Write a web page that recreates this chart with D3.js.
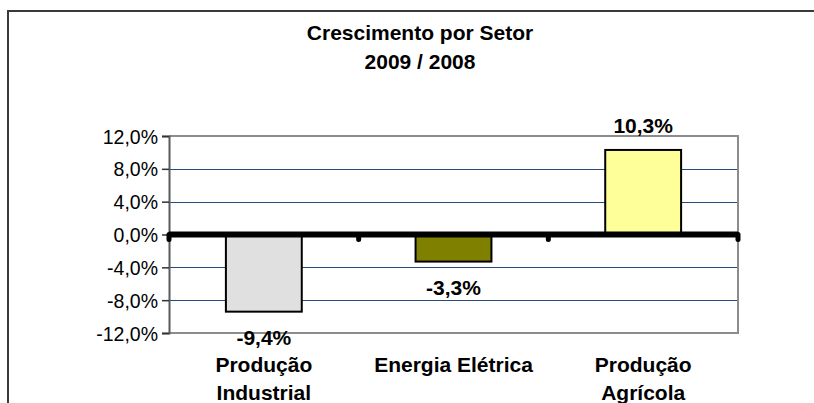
<!DOCTYPE html>
<html>
<head>
<meta charset="utf-8">
<script src="https://d3js.org/d3.v7.min.js"></script>
<style>
	body { margin: 0; background: #fff; }
	text { font-family: Arial, "Liberation Sans", sans-serif; fill: #000; }
	.bold { font-weight: bold; font-size: 21px; }
</style>
</head>
<body>
<svg id="viz" width="814" height="403"></svg>
<script>

// chart values
let sectors = [["Produção", "Industrial"], ["Energia Elétrica"], ["Produção", "Agrícola"]];
let growth = [-9.4, -3.3, 10.3];
let labels = ["-9,4%", "-3,3%", "10,3%"];
let barColors = ["#e0e0e0", "#808000", "#ffff99"];
let yTicks = [-12, -8, -4, 0, 4, 8, 12];
let titleLines = ["Crescimento por Setor", "2009 / 2008"];

let drawEverything = function() {

	const margin = {
		top:	136,
		right:	76,
		bottom: 70,
		left:	169
	};

	let svg = d3.select("body").select("svg#viz");
	let plotWidth = 814 - margin.left - margin.right;
	let plotHeight = 403 - margin.top - margin.bottom;

	// outer frame of the chart object
	svg.append("rect")
		.attr("x", 8)
		.attr("y", 11)
		.attr("width", 830)
		.attr("height", 420)
		.attr("fill", "none")
		.attr("stroke", "#3a3a3a")
		.attr("stroke-width", 2);

	// title
	svg.selectAll("text.title")
		.data(titleLines)
		.enter().append("text")
		.attr("class", "title bold")
		.attr("x", 420)
		.attr("y", (d, i) => 40 + i * 29)
		.attr("text-anchor", "middle")
		.text(d => d);

	let data = growth.map((v, i) => ({ name: sectors[i].join(" "), lines: sectors[i], value: v, label: labels[i], color: barColors[i] }));

	// scales
	let yScale = d3.scaleLinear()
		.domain([-12, 12])
		.range([plotHeight, 0]);

	let xScale = d3.scaleBand()
		.domain(data.map(d => d.name))
		.range([0, plotWidth])
		.paddingInner(0.6)
		.paddingOuter(0.3);

	let plot = svg.append("g").attr("id", "plot");
	plot.attr("transform", `translate(${margin.left}, ${margin.top})`);

	// gridlines (not at zero, the zero line is drawn thick later)
	plot.selectAll("line.grid")
		.data(yTicks.filter(t => t != 0 && t != 12 && t != -12))
		.enter().append("line")
		.attr("class", "grid")
		.attr("x1", 0)
		.attr("x2", plotWidth)
		.attr("y1", d => Math.round(yScale(d)) + 0.5)
		.attr("y2", d => Math.round(yScale(d)) + 0.5)
		.attr("stroke", "#264c7e")
		.attr("stroke-width", 1);

	// plot area border (top, right, bottom in gray)
	plot.append("path")
		.attr("d", `M0,${yScale(12)}H${plotWidth}V${yScale(-12)}H0`)
		.attr("fill", "none")
		.attr("stroke", "#8c8c8c")
		.attr("stroke-width", 2);

	// y axis
	let yAxis = d3.axisLeft(yScale)
		.tickValues(yTicks)
		.tickSize(7)
		.tickPadding(4)
		.tickFormat(d => d3.format(".1f")(d).replace(".", ",").replace("−", "-") + "%");
	let yGroup = plot.append("g").attr("id", "y-axis").call(yAxis);
	yGroup.select(".domain").attr("stroke", "#5a5a5a").attr("stroke-width", 2);
	yGroup.selectAll(".tick line").attr("stroke", "#333").attr("stroke-width", 1.5);
	yGroup.selectAll(".tick text")
		.attr("fill", "#000")
		.attr("dy", "0.36em")
		.style("font-size", "19.5px")
		.style("font-family", "Arial, 'Liberation Sans', sans-serif");

	// bars
	plot.selectAll("rect.bar")
		.data(data)
		.enter().append("rect")
		.attr("class", "bar")
		.attr("x", d => xScale(d.name))
		.attr("width", xScale.bandwidth())
		.attr("y", d => yScale(Math.max(0, d.value)))
		.attr("height", d => Math.abs(yScale(d.value) - yScale(0)))
		.attr("fill", d => d.color)
		.attr("stroke", "#000")
		.attr("stroke-width", 2);

	// thick zero line with the category ticks
	let step = xScale.step();
	let bounds = data.map(d => xScale(d.name) - step * xScale.paddingInner() / 2);
	bounds.push(plotWidth);

	plot.selectAll("line.xtick")
		.data(bounds)
		.enter().append("line")
		.attr("class", "xtick")
		.attr("x1", d => d)
		.attr("x2", d => d)
		.attr("y1", yScale(0))
		.attr("y2", yScale(0) + 5)
		.attr("stroke", "#000")
		.attr("stroke-width", 5)
		.attr("stroke-linecap", "round");

	plot.append("line")
		.attr("x1", 0)
		.attr("x2", plotWidth)
		.attr("y1", yScale(0))
		.attr("y2", yScale(0))
		.attr("stroke", "#000")
		.attr("stroke-width", 6);

	// value labels
	plot.selectAll("text.value")
		.data(data)
		.enter().append("text")
		.attr("class", "value bold")
		.attr("x", d => xScale(d.name) + xScale.bandwidth() / 2)
		.attr("y", d => d.value >= 0 ? yScale(d.value) - 17 : yScale(d.value) + 33)
		.attr("text-anchor", "middle")
		.text(d => d.label);

	// category labels (below the plot)
	let cats = plot.selectAll("text.cat")
		.data(data)
		.enter().append("text")
		.attr("class", "cat bold")
		.attr("text-anchor", "middle")
		.attr("x", d => xScale(d.name) + xScale.bandwidth() / 2)
		.attr("y", plotHeight + 39);

	cats.selectAll("tspan")
		.data(d => d.lines.map(l => ({ line: l, x: xScale(d.name) + xScale.bandwidth() / 2 })))
		.enter().append("tspan")
		.attr("x", d => d.x)
		.attr("dy", (d, i) => i == 0 ? 0 : 28)
		.text(d => d.line);
};

drawEverything();

</script>
</body>
</html>
